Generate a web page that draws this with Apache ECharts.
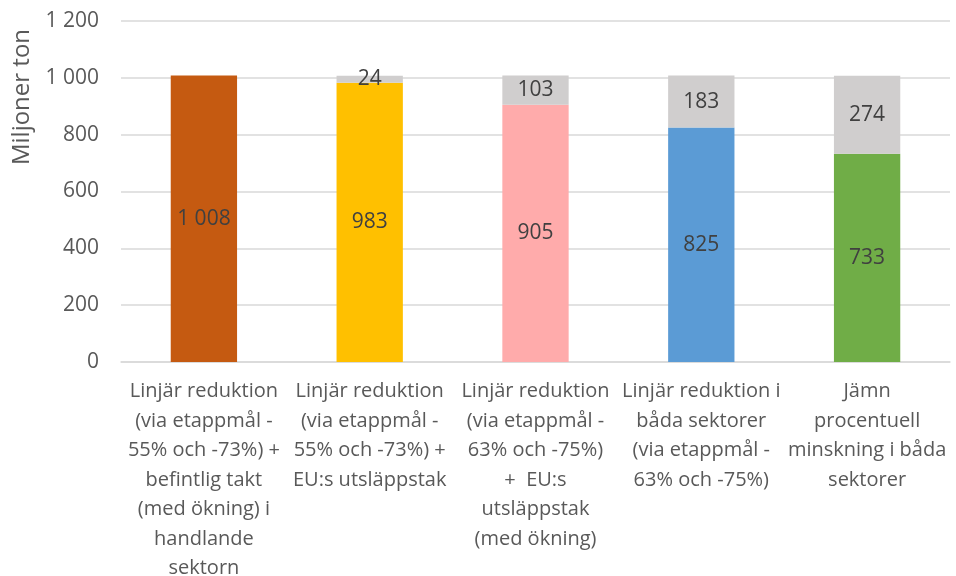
<!DOCTYPE html>
<html lang="sv">
  <head>
    <meta charset="UTF-8" />
    <title>Utsläppsbana</title>
    <style>
      html, body { margin: 0; padding: 0; background: #fff; }
      #container { width: 956px; height: 576px; }
    </style>
    <script src="https://cdn.jsdelivr.net/npm/echarts@6/dist/echarts.min.js"></script>
  </head>
  <body>
    <div id="container"></div>
    <script>
      const categories = [
        'Linjär reduktion\n(via etappmål -\n55% och -73%) +\nbefintlig takt\n(med ökning) i\nhandlande\nsektorn',
        'Linjär reduktion\n(via etappmål -\n55% och -73%) +\nEU:s utsläppstak',
        'Linjär reduktion\n(via etappmål -\n63% och -75%)\n+  EU:s\nutsläppstak\n(med ökning)',
        'Linjär reduktion i\nbåda sektorer\n(via etappmål -\n63% och -75%)',
        'Jämn\nprocentuell\nminskning i båda\nsektorer',
      ]
      const mainValues = [1008, 983, 905, 825, 733]
      const restValues = [null, 24, 103, 183, 274]
      const barColors = ['#C55A11', '#FFC000', '#FFABAB', '#5B9BD5', '#70AD47']
      const yTicks = { min: 0, max: 1200, interval: 200 }

      const fmt = (v) => String(v).replace(/\B(?=(\d{3})+(?!\d))/g, ' ')
      const font = '"Open Sans", sans-serif'

      const chart = echarts.init(document.getElementById('container'))
      chart.setOption({
        animation: false,
        grid: { left: 121, right: 6, top: 21, bottom: 214, outerBoundsMode: 'none' },
        graphic: [
          {
            type: 'text',
            x: 22,
            y: 97,
            rotation: Math.PI / 2,
            style: {
              text: 'Miljoner ton',
              fill: '#595959',
              font: '24px ' + font,
              align: 'center',
              verticalAlign: 'middle',
            },
          },
        ],
        xAxis: {
          type: 'category',
          data: categories,
          axisLine: { lineStyle: { color: '#D9D9D9', width: 1.5 } },
          axisTick: { show: false },
          axisLabel: {
            interval: 0,
            color: '#595959',
            fontFamily: font,
            fontSize: 20,
            lineHeight: 29.5,
            margin: 15,
            verticalAlign: 'top',
          },
        },
        yAxis: {
          type: 'value',
          min: yTicks.min,
          max: yTicks.max,
          interval: yTicks.interval,
          axisLine: { show: false },
          axisTick: { show: false },
          splitLine: { lineStyle: { color: '#D9D9D9', width: 1.5 } },
          axisLabel: {
            color: '#595959',
            fontFamily: font,
            fontSize: 21,
            margin: 22,
            formatter: fmt,
          },
        },
        series: [
          {
            type: 'bar',
            stack: 'total',
            barWidth: '40%',
            data: mainValues.map((v, i) => ({ value: v, itemStyle: { color: barColors[i] } })),
            label: {
              show: true,
              position: 'inside',
              color: '#404040',
              fontFamily: font,
              fontSize: 21,
              formatter: (p) => fmt(p.value),
            },
          },
          {
            type: 'bar',
            stack: 'total',
            barWidth: '40%',
            itemStyle: { color: '#D0CECE' },
            data: restValues,
            label: {
              show: true,
              position: 'inside',
              color: '#404040',
              fontFamily: font,
              fontSize: 21,
              formatter: (p) => fmt(p.value),
            },
          },
        ],
      })
    </script>
  </body>
</html>
